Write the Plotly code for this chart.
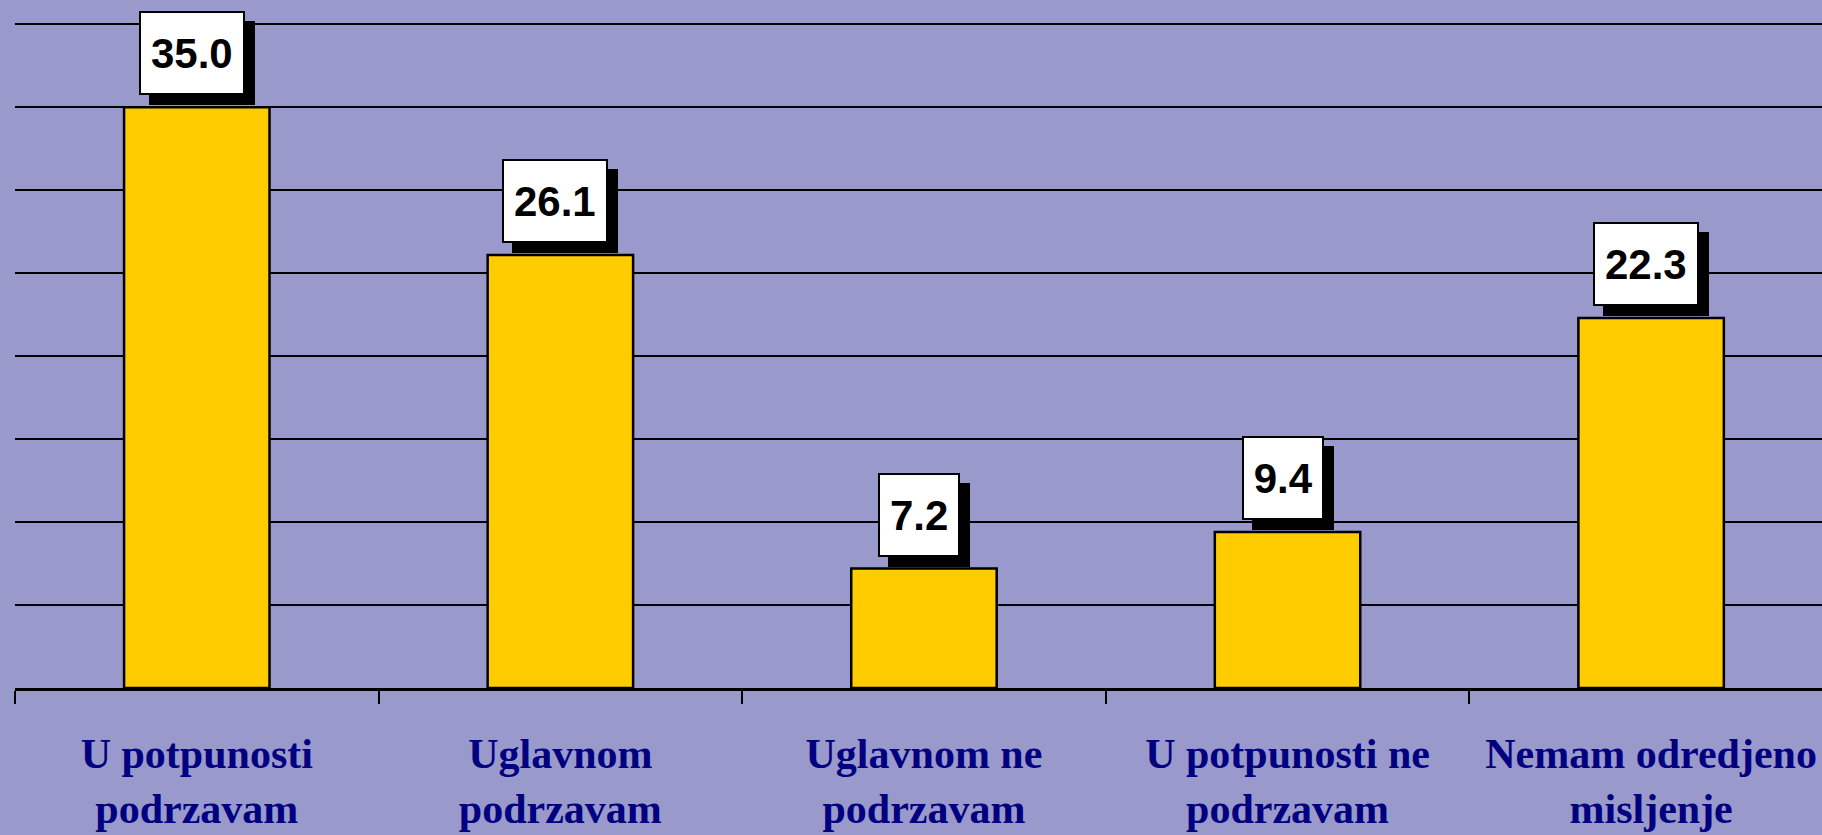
import plotly.graph_objects as go

categories = [
    "U potpunosti<br>podrzavam",
    "Uglavnom<br>podrzavam",
    "Uglavnom ne<br>podrzavam",
    "U potpunosti ne<br>podrzavam",
    "Nemam odredjeno<br>misljenje",
]
values = [35.0, 26.1, 7.2, 9.4, 22.3]
gridlines = [5, 10, 15, 20, 25, 30, 35, 40]

BG = "#9999CC"
BAR = "#FFCC00"
NAVY = "#000080"
LABEL_SIZE = 42

fig = go.Figure(
    go.Bar(
        x=categories,
        y=values,
        marker=dict(color=BAR, line=dict(color="black", width=2.5)),
        hoverinfo="skip",
    )
)

# value labels: black drop shadow box first, white box with text on top
for cat, v in zip(categories, values):
    label = f"{v:.1f}"
    # rough Arial-bold width: digits 0.556em, dot 0.278em
    w = sum(0.278 if c == "." else 0.556 for c in label) * LABEL_SIZE + 2
    common = dict(
        x=cat, y=v, showarrow=False,
        xanchor="center", yanchor="bottom",
        font=dict(family="Liberation Sans, Arial", size=LABEL_SIZE, color="black"),
        borderpad=9, borderwidth=2, width=w, height=62,
        bordercolor="black",
    )
    fig.add_annotation(**common, text=" ", bgcolor="black", xshift=5, yshift=2)
    fig.add_annotation(**common, text=f"<b>{label}</b>", bgcolor="white",
                       xshift=-5, yshift=12)

fig.update_layout(
    width=1822,
    height=835,
    paper_bgcolor=BG,
    plot_bgcolor=BG,
    bargap=0.6,
    showlegend=False,
    margin=dict(l=15, r=0, t=0, b=147, autoexpand=False),
    xaxis=dict(
        type="category",
        range=[-0.5, 4.47],
        showline=True, linecolor="black", linewidth=2.5,
        ticks="outside", tickson="boundaries", ticklen=13,
        tickwidth=2, tickcolor="black",
        showgrid=False, automargin=False,
        ticklabelstandoff=27,
        tickfont=dict(family="Liberation Serif, Times New Roman", size=42,
                      color=NAVY, weight="bold"),
    ),
    yaxis=dict(
        range=[0, 41.47],
        tickvals=gridlines,
        showticklabels=False,
        showgrid=True, gridcolor="black", gridwidth=2,
        zeroline=False, showline=False, automargin=False,
    ),
)

fig.write_html(
    "out.html",
    config={"displayModeBar": False},
    post_script="document.body.style.margin='0';"
                "document.body.style.overflow='hidden';"
                "document.body.style.background='#9999CC';",
)
